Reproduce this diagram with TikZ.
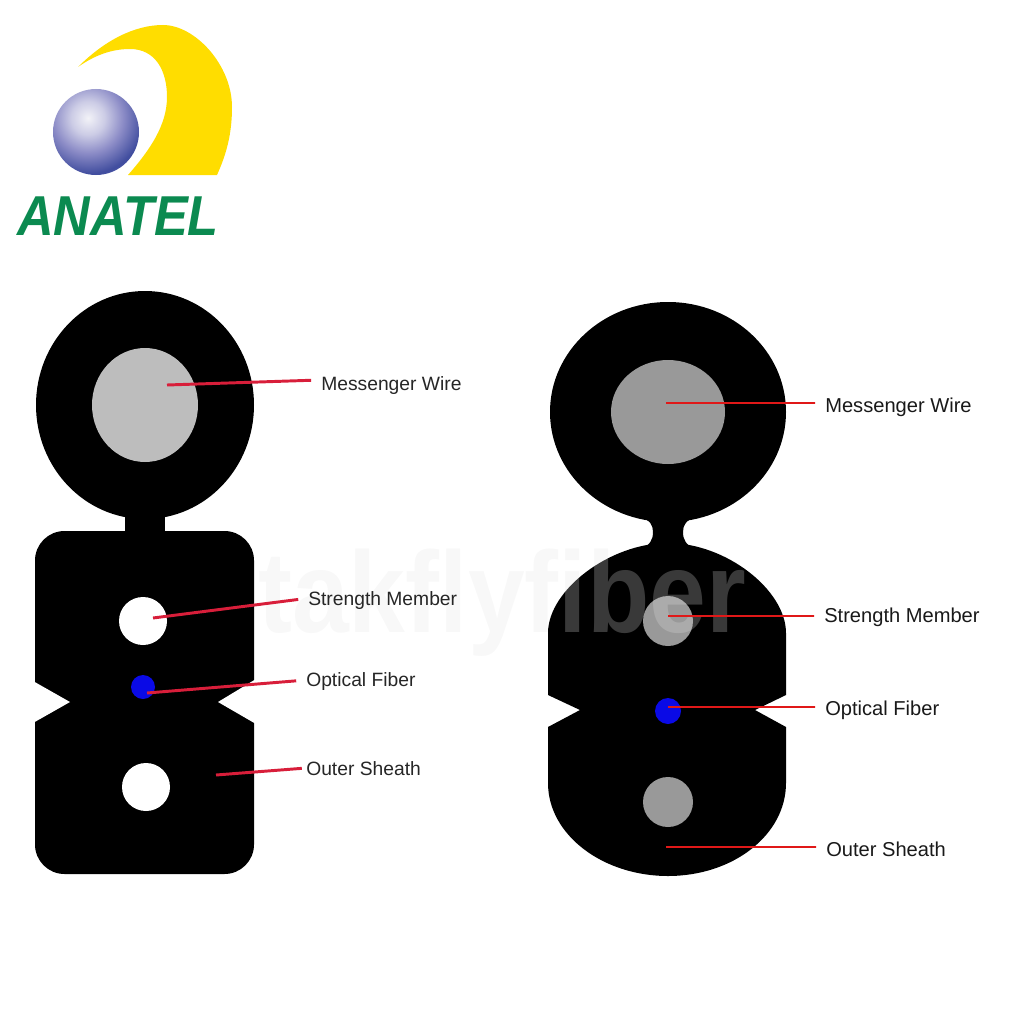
\documentclass[tikz,border=0pt]{standalone}
\usepackage{fontspec}
\setmainfont{Liberation Sans}
\definecolor{anatelgreen}{HTML}{0B8A50}
\definecolor{anatelyellow}{HTML}{FFDD00}
\definecolor{wiregray}{HTML}{BDBDBD}
\definecolor{coregray}{HTML}{999999}
\definecolor{fiberblue}{HTML}{0A0AE6}
\definecolor{lineleftred}{HTML}{D81E3A}
\definecolor{linerightred}{HTML}{E01818}
\pgfdeclareradialshading{anatelball}{\pgfpointorigin}{%
  rgb(0bp)=(0.95,0.95,0.97);rgb(6bp)=(0.80,0.80,0.90);
  rgb(12.5bp)=(0.55,0.55,0.78);rgb(20bp)=(0.25,0.30,0.62);
  rgb(25bp)=(0.38,0.41,0.72);rgb(100bp)=(0.38,0.41,0.72)}
\tikzstyle{sheath} = [fill=black]
\tikzstyle{hole} = [fill=white]
\tikzstyle{core} = [fill=coregray]
\tikzstyle{fiber} = [fill=fiberblue]
\tikzstyle{lineleft} = [draw=lineleftred, line width=2.1pt, shorten >=7pt]
\tikzstyle{lineright} = [draw=linerightred, line width=1.3pt, shorten >=7pt]
\tikzstyle{labelleft} = [anchor=west, inner sep=0pt, font=\fontsize{13.7}{15}\selectfont, text=black!85]
\tikzstyle{labelright} = [anchor=west, inner sep=0pt, font=\fontsize{14.3}{16}\selectfont, text=black!90]
\begin{document}
\begin{tikzpicture}[x=0.025cm, y=-0.025cm]
    \useasboundingbox (0,0) rectangle (1012,1012);

    % logo
    \fill [anatelyellow] (78,67) .. controls (105,40) and (135,25) .. (163,25)
      .. controls (195,25) and (232,65) .. (232,107)
      .. controls (232,135) and (226,155) .. (217,175) -- (128,175)
      .. controls (150,150) and (167,125) .. (167,97)
      .. controls (167,70) and (155,49) .. (130,49)
      .. controls (112,49) and (95,55) .. (78,67) -- cycle;
    \begin{scope}
      \clip (96,132) circle [radius=43];
      \shade [shading=anatelball] (88,118) circle [radius=70];
    \end{scope}
    \node (anatel) [anchor=base west, inner sep=0pt, text=anatelgreen, xscale=0.9,
      font=\fontsize{40}{40}\selectfont\bfseries\itshape] at (17,235) {ANATEL};

    % left cable
    \fill [sheath] (145,405) circle [x radius=109, y radius=114];
    \fill [sheath] (125,510) rectangle (165,540);
    \fill [sheath, rounded corners=21pt] (35,531) rectangle (254,874);
    \fill [hole] (33,681) -- (70,702) -- (33,723) -- cycle;
    \fill [hole] (256,679) -- (218,702) -- (256,724) -- cycle;
    \fill [wiregray] (145,405) circle [x radius=53, y radius=57];
    \fill [hole] (143,621) circle [radius=24];
    \fill [fiber] (143,687) circle [radius=12];
    \fill [hole] (146,787) circle [radius=24];

    % right cable
    \fill [sheath] (668,412) circle [x radius=118, y radius=110];
    \fill [sheath] (640,517) .. controls (650,520) and (653,525) .. (653,532)
      .. controls (653,540) and (650,545) .. (640,550) -- (696,550)
      .. controls (686,545) and (683,540) .. (683,532)
      .. controls (683,525) and (686,520) .. (696,517) -- cycle;
    \fill [sheath] (548,695) -- (548,633) .. controls (548,590) and (610,543) .. (668,543)
      .. controls (726,543) and (786,590) .. (786,633) -- (786,695) -- (755,710) -- (786,727)
      -- (786,783) .. controls (786,835) and (733,876) .. (668,876)
      .. controls (603,876) and (548,835) .. (548,783) -- (548,727) -- (580,710) -- cycle;
    \fill [core] (668,412) circle [x radius=57, y radius=52];
    \fill [core] (668,621) circle [radius=25];
    \fill [fiber] (668,711) circle [radius=13];
    \fill [core] (668,802) circle [radius=25];

    \node (watermark) [anchor=base west, inner sep=0pt, xscale=0.885, text=black!11,
      text opacity=0.255, font=\fontsize{82}{82}\selectfont\bfseries] at (258,632) {takflyfiber};

    \node [labelleft] (wireleft) at (321,386) {Messenger Wire};
    \node [labelleft] (memberleft) at (308,601) {Strength Member};
    \node [labelleft] (fiberleft) at (306,682) {Optical Fiber};
    \node [labelleft] (sheathleft) at (306,769) {Outer Sheath};
    \node [labelright] (wireright) at (825,407) {Messenger Wire};
    \node [labelright] (memberright) at (824,617) {Strength Member};
    \node [labelright] (fiberright) at (825,710) {Optical Fiber};
    \node [labelright] (sheathright) at (826,849) {Outer Sheath};

    \coordinate (wireleftend) at (167,385);
    \coordinate (memberleftend) at (153,618);
    \coordinate (fiberleftend) at (147,693);
    \coordinate (sheathleftend) at (216,775);
    \coordinate (wirerightend) at (666,403);
    \coordinate (memberrightend) at (668,616);
    \coordinate (fiberrightend) at (668,707);
    \coordinate (sheathrightend) at (666,847);

    \path [lineleft] (wireleftend) -- ([yshift=4.3pt]wireleft.west);
    \path [lineleft] (memberleftend) -- ([yshift=2pt]memberleft.west);
    \path [lineleft] (fiberleftend) -- ([yshift=1.4pt]fiberleft.west);
    \path [lineleft, shorten >=3pt] (sheathleftend) -- ([yshift=0.7pt]sheathleft.west);
    \path [lineright] (wirerightend) -- ([yshift=2.8pt]wireright.west);
    \path [lineright] (memberrightend) -- ([yshift=0.7pt]memberright.west);
    \path [lineright] (fiberrightend) -- ([yshift=2.1pt]fiberright.west);
    \path [lineright] (sheathrightend) -- ([yshift=1.4pt]sheathright.west);
\end{tikzpicture}
\end{document}
